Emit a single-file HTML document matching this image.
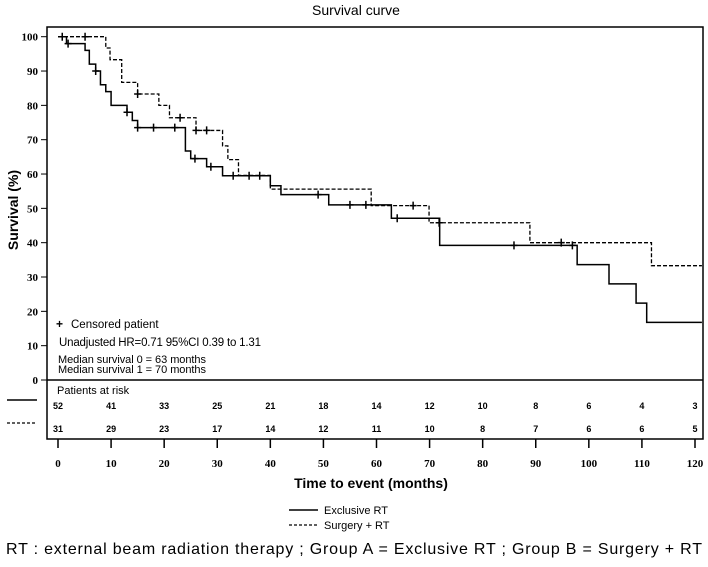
<!DOCTYPE html>
<html><head><meta charset="utf-8"><style>
body{margin:0;background:#fff}
svg text{font-family:"Liberation Sans",sans-serif}
.ser{font-family:"Liberation Serif",serif;font-weight:bold}
</style></head><body>
<svg id="chart" width="708" height="562" viewBox="0 0 708 562" xmlns="http://www.w3.org/2000/svg">
<text x="356" y="15" font-size="14" text-anchor="middle">Survival curve</text>
<rect x="47" y="27" width="656" height="412" fill="none" stroke="#000" stroke-width="1.5"/>
<line x1="47" y1="380" x2="703" y2="380" stroke="#000" stroke-width="1.5"/>
<text x="18" y="210" font-size="14" font-weight="bold" text-anchor="middle" transform="rotate(-90 18 210)">Survival (%)</text>
<text x="371" y="488" font-size="14" font-weight="bold" text-anchor="middle">Time to event (months)</text>
<g id="yticks"></g><g id="xticks"></g><g id="curves"></g><g id="risk"></g>
<text x="56" y="328" font-size="12" font-weight="bold">+</text>
<text x="71" y="328" font-size="11.5">Censored patient</text>
<text x="59" y="346" font-size="11.5" textLength="202">Unadjusted HR=0.71 95%CI 0.39 to 1.31</text>
<text x="58" y="363" font-size="11" textLength="148">Median survival 0 = 63 months</text>
<text x="58" y="373" font-size="11" textLength="148">Median survival 1 = 70 months</text>
<text x="57" y="394" font-size="11">Patients at risk</text>
<line x1="7" y1="400" x2="37" y2="400" stroke="#000" stroke-width="1.5"/>
<line x1="7" y1="423" x2="37" y2="423" stroke="#000" stroke-width="1.2" stroke-dasharray="3,2"/>
<line x1="289" y1="510" x2="318" y2="510" stroke="#000" stroke-width="1.5"/>
<text x="324" y="514" font-size="11">Exclusive RT</text>
<line x1="289" y1="525" x2="318" y2="525" stroke="#000" stroke-width="1.2" stroke-dasharray="3,2"/>
<text x="324" y="529" font-size="11">Surgery + RT</text>
<text x="354" y="554" font-size="16" text-anchor="middle" textLength="696" font-family="Liberation Sans, sans-serif">RT : external beam radiation therapy ; Group A = Exclusive RT ; Group B = Surgery + RT</text>
</svg>
<script>
const xTicks=[0,10,20,30,40,50,60,70,80,90,100,110,120];
const yTicks=[0,10,20,30,40,50,60,70,80,90,100];
const riskA=[52,41,33,25,21,18,14,12,10,8,6,4,3];
const riskB=[31,29,23,17,14,12,11,10,8,7,6,6,5];
const timesA=[0,1.6,5.1,5.9,7.1,8,9,10,13,14,15,24,25,28,31,40,42,51,62.8,71.9,97.8,103.8,108.9,110.9];
const survA=[100,98,96,92,90,86,84,80,78,75.6,73.5,66.7,64.5,62.1,59.5,56.6,54,51,47.1,39.2,33.6,28,22.4,16.8];
const censorA=[1.9,7.1,13,15,18,22,25.8,28.8,33,36,38,49,55,58,63.9,85.9,96.9];
const timesB=[0,9,9.8,12,15,19,21,26,31,32,34,40,59,69.9,88.9,111.8];
const survB=[100,96.7,93.3,86.7,83.3,80,76.4,72.7,68.2,64.2,59.6,55.6,50.8,45.8,40,33.3];
const censorB=[0.8,5.1,15,23,26,28,66.9,71.8,94.8];
const endTime=121.3;
const NS="http://www.w3.org/2000/svg";
const X=m=>58+m*(637/120), Y=p=>380-p*3.433;
function mk(tag,attrs,parent){const e=document.createElementNS(NS,tag);for(const k in attrs)e.setAttribute(k,attrs[k]);parent.appendChild(e);return e;}
const yt=document.getElementById('yticks');
yTicks.forEach(v=>{
 const l=mk('line',{x1:41,x2:47,y1:Y(v),y2:Y(v),stroke:'#000','stroke-width':1},yt);
 
 
 const t=mk('text',{x:38,y:Y(v)+4,'font-size':11,'text-anchor':'end',class:'ser'},yt);t.textContent=v;
 
 
});
const xt=document.getElementById('xticks');const rk=document.getElementById('risk');
xTicks.forEach((v,i)=>{
 const l=mk('line',{x1:X(v),x2:X(v),y1:439,y2:448,stroke:'#000','stroke-width':1.5},xt);
 
 
 const t=mk('text',{x:X(v),y:467,'font-size':11,'text-anchor':'middle',class:'ser'},xt);t.textContent=v;
 
 
 const a=mk('text',{x:X(v),y:409,'font-size':9,'font-weight':'bold','text-anchor':'middle'},rk);a.textContent=riskA[i];
 
 
 const b=mk('text',{x:X(v),y:432,'font-size':9,'font-weight':'bold','text-anchor':'middle'},rk);b.textContent=riskB[i];
 
 
});
const cv=document.getElementById('curves');
function stepAt(times,surv,t){let s=surv[0];for(let i=0;i<times.length;i++)if(times[i]<=t)s=surv[i];return s;}
function draw(times,surv,censor,dash,name){
 let d='M'+X(times[0])+','+Y(surv[0]);
 for(let i=1;i<times.length;i++){d+=' H'+X(times[i])+' V'+Y(surv[i]);}
 d+=' H'+X(endTime);
 const p=mk('path',{d:d,fill:'none',stroke:'#000','stroke-width':dash?1.3:1.5},cv);
 if(dash)p.setAttribute('stroke-dasharray','4,2');
 
 
 censor.forEach(c=>{
  const cx=X(c),cy=Y(stepAt(times,surv,c));
  const g=mk('path',{d:`M${cx-3.5},${cy} H${cx+3.5} M${cx},${cy-4} V${cy+4}`,stroke:'#000','stroke-width':1.5},cv);
  
  
 });
}
draw(timesA,survA,censorA,false,'exclusive-rt');
draw(timesB,survB,censorB,true,'surgery-rt');
</script>
</body></html>
